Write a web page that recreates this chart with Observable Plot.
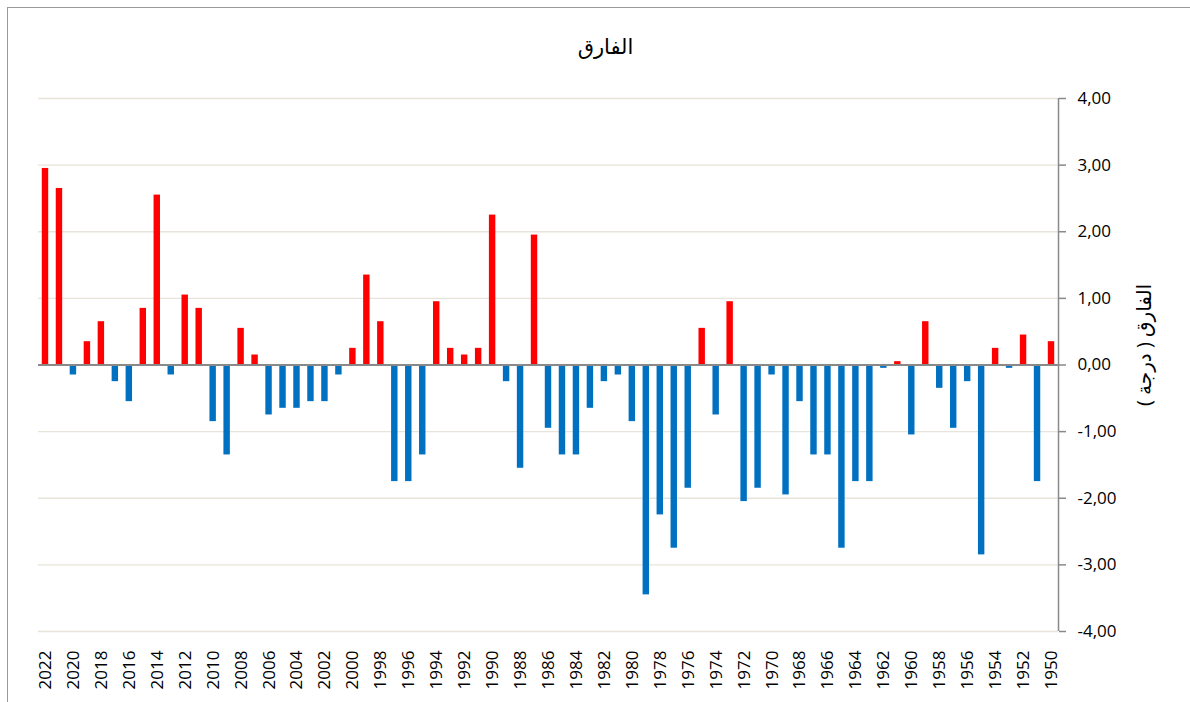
<!DOCTYPE html>
<html>
<head>
<meta charset="utf-8">
<script src="https://cdn.jsdelivr.net/npm/d3@7"></script>
<script src="https://cdn.jsdelivr.net/npm/@observablehq/plot@0.6"></script>
<style>
  html, body { margin: 0; padding: 0; background: #fff; overflow: hidden; width: 1190px; height: 702px; }
  #wrap { position: relative; width: 1190px; height: 702px; }
  #border { position: absolute; left: 7px; top: 7px; width: 1300px; height: 800px; border: 1px solid #9a9a9a; box-sizing: border-box; pointer-events: none; }
  #chart { position: absolute; left: 0; top: 0; }
</style>
</head>
<body>
<div id="wrap">
  <div id="border"></div>
  <div id="chart"></div>
</div>
<script>
const title = "الفارق";
const yLabel = "الفارق ( درجة )";
const years = [2022,2021,2020,2019,2018,2017,2016,2015,2014,2013,2012,2011,2010,2009,2008,2007,2006,2005,2004,2003,2002,2001,2000,1999,1998,1997,1996,1995,1994,1993,1992,1991,1990,1989,1988,1987,1986,1985,1984,1983,1982,1981,1980,1979,1978,1977,1976,1975,1974,1973,1972,1971,1970,1969,1968,1967,1966,1965,1964,1963,1962,1961,1960,1959,1958,1957,1956,1955,1954,1953,1952,1951,1950];
const values = [2.95,2.65,-0.15,0.35,0.65,-0.25,-0.55,0.85,2.55,-0.15,1.05,0.85,-0.85,-1.35,0.55,0.15,-0.75,-0.65,-0.65,-0.55,-0.55,-0.15,0.25,1.35,0.65,-1.75,-1.75,-1.35,0.95,0.25,0.15,0.25,2.25,-0.25,-1.55,1.95,-0.95,-1.35,-1.35,-0.65,-0.25,-0.15,-0.85,-3.45,-2.25,-2.75,-1.85,0.55,-0.75,0.95,-2.05,-1.85,-0.15,-1.95,-0.55,-1.35,-1.35,-2.75,-1.75,-1.75,-0.05,0.05,-1.05,0.65,-0.35,-0.95,-0.25,-2.85,0.25,-0.05,0.45,-1.75,0.35];
const yTicks = [-4,-3,-2,-1,0,1,2,3,4];
const xTickYears = years.filter(y => y % 2 === 0);

const data = years.map((y, i) => ({year: String(y), value: values[i]}));
const font = "'Open Sans', 'DejaVu Sans', sans-serif";

const chart = Plot.plot({
  width: 1190,
  height: 702,
  marginLeft: 38,
  marginRight: 132,
  marginTop: 98,
  marginBottom: 71,
  style: {fontFamily: font, background: "transparent", color: "#000", overflow: "visible"},
  x: {domain: years.map(String), paddingInner: 0.54, paddingOuter: 0.27, label: null},
  y: {domain: [-4, 4], label: null},
  marks: [
    Plot.gridY(yTicks, {stroke: "#e8e4da", strokeOpacity: 1, strokeWidth: 1.3}),
    Plot.barY(data, {x: "year", y: "value", fill: d => d.value >= 0 ? "#ff0000" : "#0070c0"}),
    Plot.ruleY([0], {stroke: "#898989", strokeWidth: 2}),
    Plot.ruleX(["1950"], {x: d => d, dx: 7, y1: -4, y2: 4, stroke: "#898989", strokeWidth: 1.5}),
    Plot.axisY(yTicks, {anchor: "right", tickSize: 7, tickPadding: 12, stroke: "#898989", strokeWidth: 1.5,
      tickFormat: d => d.toFixed(2).replace(".", ","), fontSize: 17, fill: "#000", label: null}),
    Plot.axisX(xTickYears.map(String), {anchor: "bottom", tickSize: 0, tickPadding: 19, tickRotate: -90,
      fontSize: 17, fill: "#000", label: null}),
    Plot.text([title], {frameAnchor: "top", lineAnchor: "middle", textAnchor: "middle", dx: 57, dy: -51, fontSize: 21, fill: "#000"}),
    Plot.text([yLabel], {frameAnchor: "right", textAnchor: "middle", lineAnchor: "middle", dx: 86, dy: -20, rotate: -90, fontSize: 20, fill: "#000"})
  ]
});
document.getElementById("chart").appendChild(chart);
</script>
</body>
</html>
